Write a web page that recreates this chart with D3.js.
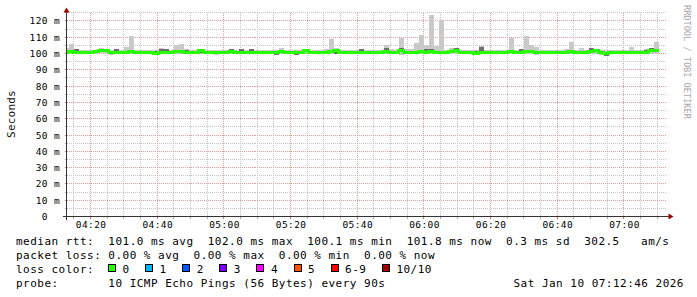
<!DOCTYPE html>
<html>
<head>
<meta charset="utf-8">
<script src="https://cdn.jsdelivr.net/npm/d3@7"></script>
<style>
  body { margin: 0; background: #fff; }
  svg { display: block; }
  text { font-family: "DejaVu Sans Mono", monospace; white-space: pre; }
</style>
</head>
<body>
<div id="chart"></div>
<script>
// rtt values in ms, one entry per 90 s step starting 04:12:00
const median = [100.9, 101.0, 100.9, 100.8, 100.9, 100.7, 101.3, 102.0, 102.0, 100.9,
  100.9, 100.8, 100.9, 101.1, 100.9, 100.9, 100.8, 100.9, 100.2, 100.9,
  100.9, 100.9, 101.0, 101.1, 100.8, 100.9, 100.8, 101.9, 100.9, 100.9,
  100.8, 100.9, 100.9, 101.0, 100.9, 100.9, 100.8, 100.9, 100.9, 100.9,
  100.8, 100.9, 100.9, 101.0, 100.9, 100.8, 100.7, 100.4, 101.8, 100.9,
  100.9, 100.8, 100.9, 101.1, 101.9, 100.9, 100.9, 100.9, 100.8, 100.9,
  100.9, 100.9, 100.7, 100.9, 101.5, 100.9, 100.9, 101.9, 100.9, 100.9,
  100.9, 101.0, 100.9, 101.0, 100.8, 100.9, 100.9, 101.5, 101.9, 100.9,
  100.9, 100.9, 100.1, 100.9, 100.9, 100.8, 100.9, 100.9, 100.9, 101.0,
  100.9, 100.9, 101.0, 101.5, 100.9, 100.9, 100.9, 100.9, 100.9, 100.9,
  100.9, 101.0, 100.9, 100.9, 100.9, 101.5, 101.9, 100.9, 100.2, 100.9,
  100.9, 100.9, 100.9, 100.9, 100.9, 100.9, 100.8, 101.9, 101.8];

const pingMax = [103.1, 105.7, 102.7, 102.2, 102.0, 102.4, 102.3, 103.4, 102.9, 102.2,
  102.6, 102.2, 103.8, 110.6, 102.3, 102.1, 102.2, 102.4, 102.0, 103.3,
  102.7, 102.3, 105.4, 105.8, 102.6, 102.1, 102.4, 102.9, 102.2, 102.1,
  102.3, 102.0, 102.2, 102.8, 102.3, 102.7, 102.2, 102.6, 102.3, 102.2,
  102.1, 102.2, 102.3, 103.4, 102.2, 102.1, 102.2, 102.3, 102.9, 102.2,
  102.1, 102.3, 103.0, 108.8, 103.1, 102.2, 102.1, 102.3, 102.2, 102.6,
  102.3, 102.2, 102.0, 102.4, 105.1, 102.6, 102.3, 109.6, 102.5, 102.6,
  106.5, 111.2, 105.1, 123.5, 104.7, 120.7, 102.4, 103.4, 103.4, 102.3,
  102.2, 102.1, 102.3, 104.3, 102.2, 102.1, 102.3, 102.2, 102.1, 109.4,
  102.4, 103.0, 110.6, 105.1, 103.9, 102.2, 102.1, 102.3, 102.2, 102.4,
  102.6, 107.0, 102.3, 103.4, 102.2, 103.4, 102.5, 102.2, 102.1, 102.3,
  102.2, 102.1, 102.4, 103.9, 102.2, 102.1, 102.6, 103.6, 107.0];

const pingMin = [99.9, 99.8, 100.0, 99.9, 99.7, 99.4, 99.9, 100.4, 100.1, 99.0,
  99.8, 99.9, 99.7, 99.9, 99.8, 99.9, 99.6, 99.8, 99.4, 99.9,
  99.4, 99.5, 99.9, 99.8, 99.9, 99.7, 99.9, 99.6, 99.9, 99.4,
  99.3, 99.9, 99.8, 99.9, 99.7, 99.9, 99.8, 99.9, 99.7, 99.9,
  99.5, 99.4, 99.2, 99.9, 99.5, 99.9, 99.1, 99.4, 99.9, 99.8,
  99.9, 99.4, 99.8, 99.9, 99.4, 99.8, 99.9, 99.8, 99.4, 99.7,
  99.6, 99.9, 99.4, 99.8, 99.9, 99.8, 99.9, 99.0, 99.8, 99.9,
  99.4, 99.8, 99.9, 99.8, 99.4, 99.5, 99.4, 99.9, 99.8, 99.9,
  99.5, 99.8, 99.5, 99.9, 99.8, 99.9, 99.8, 99.7, 99.9, 99.5,
  99.8, 99.9, 99.8, 99.9, 99.2, 99.8, 99.9, 99.7, 99.8, 99.9,
  99.5, 99.8, 99.9, 99.8, 99.9, 99.8, 99.9, 99.3, 98.6, 99.8,
  99.9, 99.8, 99.5, 99.9, 99.8, 99.9, 99.7, 99.9, 99.9];

// pings nearest the median (darker smoke)
const innerMax = [101.4, 101.5, 102.5, 101.3, 101.4, 101.2, 101.8, 102.5, 102.5, 101.4,
  102.5, 101.3, 101.4, 101.6, 101.4, 101.4, 101.3, 101.4, 101.8, 102.5,
  102.5, 101.4, 101.5, 101.6, 102.4, 101.4, 101.3, 102.4, 101.4, 101.4,
  101.3, 101.4, 101.4, 102.6, 101.4, 102.5, 101.3, 102.5, 101.4, 101.4,
  101.3, 101.4, 101.4, 101.5, 101.4, 101.3, 101.2, 100.9, 102.6, 101.4,
  101.4, 101.3, 101.4, 101.6, 102.4, 101.4, 101.4, 101.4, 101.3, 102.5,
  101.4, 101.4, 101.2, 101.4, 103.1, 101.4, 101.4, 103.5, 101.4, 101.4,
  101.4, 101.5, 102.5, 102.6, 101.3, 101.4, 101.4, 102.0, 103.3, 101.4,
  101.4, 101.4, 101.7, 103.9, 101.4, 101.3, 101.4, 101.4, 101.4, 101.5,
  101.4, 102.5, 101.5, 102.0, 101.4, 101.4, 101.4, 101.4, 101.4, 101.4,
  101.4, 101.5, 101.4, 101.4, 101.4, 103.1, 102.4, 101.4, 100.7, 101.4,
  101.4, 101.4, 101.4, 101.4, 101.4, 101.4, 102.4, 103.4, 102.3];

const innerMin = [100.4, 100.5, 100.4, 100.3, 100.4, 99.6, 100.8, 101.5, 101.5, 100.4,
  100.4, 100.3, 100.4, 100.6, 100.4, 100.4, 100.3, 100.4, 99.7, 100.4,
  100.4, 100.4, 100.5, 100.6, 100.3, 100.4, 100.3, 100.3, 100.4, 100.4,
  99.4, 100.4, 100.4, 100.5, 100.4, 100.4, 100.3, 100.4, 100.4, 100.4,
  99.5, 100.4, 99.3, 100.5, 100.4, 100.3, 99.2, 99.4, 101.3, 100.4,
  100.4, 99.4, 100.4, 100.6, 99.5, 100.4, 100.4, 100.4, 99.4, 100.4,
  100.4, 100.4, 99.4, 100.4, 101.0, 100.4, 100.4, 101.4, 100.4, 100.4,
  100.4, 100.5, 100.4, 100.5, 100.3, 99.5, 100.4, 101.0, 101.4, 100.4,
  100.4, 100.4, 99.6, 100.4, 100.4, 100.3, 100.4, 100.4, 100.4, 100.5,
  100.4, 100.4, 100.5, 101.0, 99.4, 100.4, 100.4, 100.4, 100.4, 100.4,
  100.4, 100.5, 100.4, 100.4, 100.4, 101.0, 101.4, 100.4, 98.7, 100.4,
  100.4, 100.4, 100.4, 100.4, 100.4, 100.4, 100.3, 101.4, 101.3];

const yTicks = [0, 10, 20, 30, 40, 50, 60, 70, 80, 90, 100, 110, 120];

const lossLabels = ["0", "1", "2", "3", "4", "5", "6-9", "10/10"];
const lossColors = ["#26ff00", "#00b8ff", "#0059ff", "#7e00ff", "#ff00ff", "#ff5500", "#ff0000", "#a10000"];

const statLines = [
  "median rtt:  101.0 ms avg  102.0 ms max  100.1 ms min  101.8 ms now  0.3 ms sd  302.5   am/s",
  "packet loss: 0.00 % avg  0.00 % max  0.00 % min  0.00 % now"
];
const probeLine = "probe:       10 ICMP Echo Pings (56 Bytes) every 90s";
const dateLine = "Sat Jan 10 07:12:46 2026";

// layout
const width = 697, height = 297;
const plot = { left: 66.5, right: 666.5, top: 12.75, bottom: 216.5 };
const tStart = new Date(2026, 0, 10, 4, 12, 46);
const tEnd = new Date(2026, 0, 10, 7, 12, 46);
const firstStep = new Date(2026, 0, 10, 4, 12, 0);
const stepSec = 90;
const stepTimes = median.map((d, i) => d3.timeSecond.offset(firstStep, i * stepSec));

const gridColor = "#c4c4c4";
const mgridColor = "#e59a9a";
const crisp = v => Math.floor(v) + 0.5;

const svg = d3.select("#chart")
  .append("svg")
  .attr("width", width)
  .attr("height", height);

svg.append("rect").attr("width", width).attr("height", height).attr("fill", "#fff");

const x = d3.scaleTime().domain([tStart, tEnd]).range([plot.left, plot.right]);
const y = d3.scaleLinear().domain([0, 125]).range([plot.bottom, plot.top]);

svg.append("clipPath").attr("id", "plotclip")
  .append("rect")
  .attr("x", plot.left).attr("y", plot.top)
  .attr("width", plot.right - plot.left).attr("height", plot.bottom - plot.top);

// grid
const grid = svg.append("g").attr("shape-rendering", "crispEdges").attr("stroke-dasharray", "1,1");
const vTicks = x.ticks(d3.timeMinute.every(5));
grid.selectAll(".vgrid")
  .data(vTicks)
  .join("line")
  .attr("x1", d => crisp(x(d))).attr("x2", d => crisp(x(d)))
  .attr("y1", plot.top).attr("y2", plot.bottom)
  .attr("stroke", d => d.getMinutes() % 20 === 0 ? mgridColor : gridColor);

grid.selectAll(".hgrid")
  .data(d3.range(5, 126, 5))
  .join("line")
  .attr("x1", plot.left).attr("x2", plot.right)
  .attr("y1", d => crisp(y(d))).attr("y2", d => crisp(y(d)))
  .attr("stroke", d => d % 10 === 0 ? mgridColor : gridColor);

// smoke
const smoke = svg.append("g").attr("clip-path", "url(#plotclip)").attr("shape-rendering", "crispEdges");
const stepX0 = i => x(stepTimes[i]);
const stepX1 = i => x(d3.timeSecond.offset(stepTimes[i], stepSec));

smoke.selectAll(".outer")
  .data(median)
  .join("rect")
  .attr("x", (d, i) => stepX0(i))
  .attr("width", (d, i) => stepX1(i) - stepX0(i))
  .attr("y", (d, i) => y(pingMax[i]))
  .attr("height", (d, i) => y(pingMin[i]) - y(pingMax[i]))
  .attr("fill", "#c9c9c9");

smoke.selectAll(".inner")
  .data(median)
  .join("rect")
  .attr("x", (d, i) => stepX0(i))
  .attr("width", (d, i) => stepX1(i) - stepX0(i))
  .attr("y", (d, i) => y(innerMax[i]))
  .attr("height", (d, i) => y(innerMin[i]) - y(innerMax[i]))
  .attr("fill", "#6e6e6e");

// median line (step)
const pts = [];
median.forEach((v, i) => {
  pts.push([stepX0(i), y(v)]);
  pts.push([stepX1(i), y(v)]);
});
smoke.append("path")
  .attr("d", d3.line()(pts))
  .attr("fill", "none")
  .attr("stroke", lossColors[0])
  .attr("stroke-width", 3);

// ticks on axes
const ticks = svg.append("g").attr("shape-rendering", "crispEdges");
ticks.selectAll(".yt")
  .data(d3.range(0, 126, 5))
  .join("line")
  .attr("x1", plot.left - 2).attr("x2", plot.left)
  .attr("y1", d => crisp(y(d))).attr("y2", d => crisp(y(d)))
  .attr("stroke", d => d % 10 === 0 ? "#d07070" : "#aaaaaa");
ticks.selectAll(".xt")
  .data(vTicks)
  .join("line")
  .attr("x1", d => crisp(x(d))).attr("x2", d => crisp(x(d)))
  .attr("y1", plot.bottom).attr("y2", plot.bottom + 2)
  .attr("stroke", d => d.getMinutes() % 20 === 0 ? "#d07070" : "#aaaaaa");

// axis lines and arrows
const axisCol = "#333";
svg.append("line")
  .attr("x1", plot.left).attr("x2", plot.left)
  .attr("y1", plot.bottom + 3).attr("y2", 10)
  .attr("stroke", axisCol).attr("shape-rendering", "crispEdges");
svg.append("line")
  .attr("x1", plot.left - 4).attr("x2", plot.right + 3)
  .attr("y1", plot.bottom).attr("y2", plot.bottom)
  .attr("stroke", axisCol).attr("shape-rendering", "crispEdges");
svg.append("path")
  .attr("d", `M${plot.left},7.5 L${plot.left - 3},12.5 L${plot.left + 3},12.5 Z`)
  .attr("fill", "#a00000");
svg.append("path")
  .attr("d", `M${plot.right + 7},${plot.bottom} L${plot.right + 2},${plot.bottom - 3} L${plot.right + 2},${plot.bottom + 3} Z`)
  .attr("fill", "#a00000");

// axis labels
const axisFont = g => g.selectAll("text")
  .attr("font-family", "DejaVu Sans Mono")
  .attr("font-size", 9.5)
  .attr("letter-spacing", "0.4px")
  .attr("fill", "#000");

svg.append("g")
  .attr("transform", `translate(${plot.left},0)`)
  .call(d3.axisLeft(y).tickValues(yTicks)
    .tickFormat(d => d === 0 ? "0  " : d + " m")
    .tickSize(0).tickPadding(6.3))
  .call(g => g.select(".domain").remove())
  .call(axisFont);

svg.append("g")
  .attr("transform", `translate(0,${plot.bottom})`)
  .call(d3.axisBottom(x).ticks(d3.timeMinute.every(20))
    .tickFormat(d3.timeFormat("%H:%M"))
    .tickSize(0).tickPadding(4.8))
  .call(g => g.select(".domain").remove())
  .call(axisFont);

// titles
svg.append("text")
  .attr("transform", "translate(14.5,114) rotate(-90)")
  .attr("text-anchor", "middle")
  .attr("font-size", 11)
  .attr("letter-spacing", "0.2px")
  .attr("fill", "#111")
  .text("Seconds");

svg.append("text")
  .attr("transform", "translate(683.5,5) rotate(90)")
  .attr("font-size", 8.6)
  .attr("fill", "#a8a8a8")
  .text("RRDTOOL / TOBI OETIKER");

// legend
const legend = svg.append("g")
  .attr("font-size", 11)
  .attr("letter-spacing", "0.48px")
  .attr("fill", "#000");

const rowY = [244.5, 258.7, 272.9, 287.1];
statLines.forEach((s, i) => {
  legend.append("text").attr("x", 16).attr("y", rowY[i]).text(s);
});
legend.append("text").attr("x", 16).attr("y", rowY[2]).text("loss color:");

const charW = 7.1;
let bx = 108.5;
lossLabels.forEach((lab, i) => {
  legend.append("rect")
    .attr("x", bx).attr("y", 264.5)
    .attr("width", 7).attr("height", 7)
    .attr("fill", lossColors[i])
    .attr("stroke", "#000").attr("stroke-width", 1)
    .attr("shape-rendering", "crispEdges");
  legend.append("text").attr("x", bx + 14).attr("y", rowY[2]).text(lab);
  bx = bx + 14 + lab.length * charW + 16;
});

legend.append("text").attr("x", 16).attr("y", rowY[3]).text(probeLine);
legend.append("text").attr("x", 513.5).attr("y", rowY[3]).text(dateLine);
</script>
</body>
</html>
